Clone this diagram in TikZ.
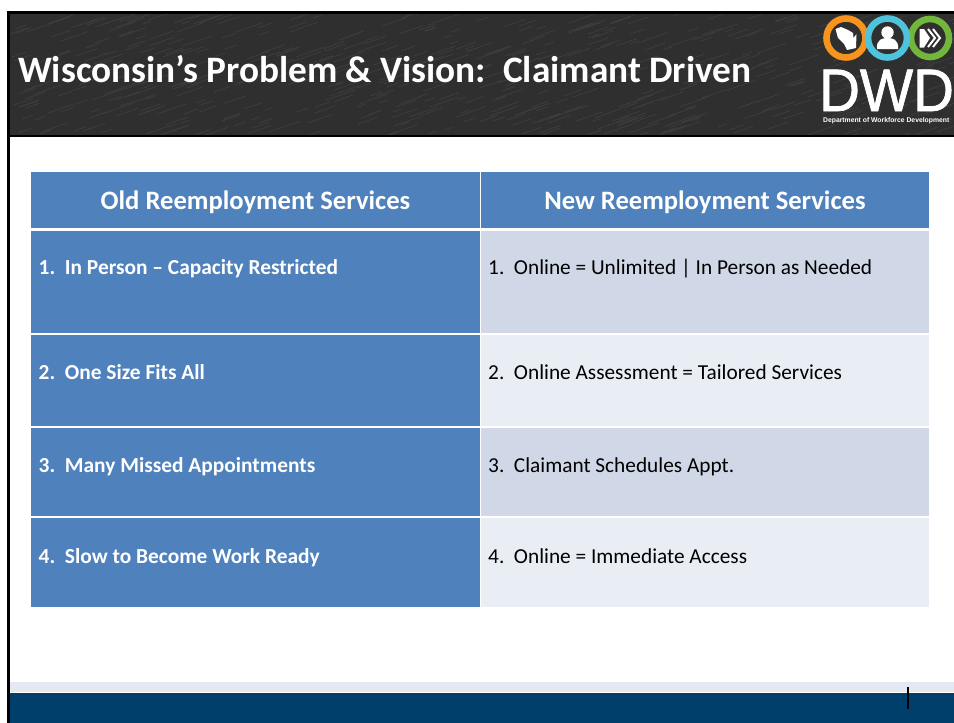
\documentclass[tikz,border=0pt]{standalone}
\usepackage{fontspec}
\setmainfont{Carlito}
\newfontfamily\logofont{Liberation Sans}
\newfontfamily\dwdfont[FakeStretch=0.94,FakeBold=1.2]{Liberation Sans}
\definecolor{headdark}{HTML}{2F2F2F}
\definecolor{texdark}{HTML}{3F3F3F}
\definecolor{cellblue}{HTML}{4F81BD}
\definecolor{rowa}{HTML}{D0D8E8}
\definecolor{rowb}{HTML}{E9EDF4}
\definecolor{navy}{HTML}{003F6B}
\definecolor{strip}{HTML}{E4E8F0}
\definecolor{ringorange}{HTML}{F7941E}
\definecolor{ringblue}{HTML}{4FC3DC}
\definecolor{ringgreen}{HTML}{72B73C}
\tikzset{
  x=1pt,y=-1pt,
  cell/.style={anchor=north west,inner sep=0pt,minimum width=#1,outer sep=0pt},
  headcell/.style={rectangle,fill=cellblue},
  leftcell/.style={rectangle,fill=cellblue},
  rightA/.style={rectangle,fill=rowa},
  rightB/.style={rectangle,fill=rowb},
  htext/.style={anchor=base,inner sep=0pt,text=white,font=\fontsize{26.6}{26.6}\selectfont\bfseries},
  ltext/.style={anchor=base west,inner sep=0pt,text=white,font=\fontsize{21.4}{21.4}\selectfont\bfseries},
  rtext/.style={anchor=base west,inner sep=0pt,text=black,font=\fontsize{21.3}{21.3}\selectfont},
  ring/.style={draw=#1,line width=6.6pt,fill=headdark},
  logowhite/.style={fill=white,draw=none}
}
\begin{document}
\begin{tikzpicture}
\useasboundingbox (0,0) rectangle (954,723);
\fill[white] (0,0) rectangle (954,723);
% header band
\fill[headdark] (8,12) rectangle (954,137);
\pgfmathsetseed{7}
\begin{scope}
\clip (10,14) rectangle (954,135);
\foreach \i in {1,...,520}{
  \pgfmathsetmacro{\px}{random(10,954)}
  \pgfmathsetmacro{\py}{random(14,136)}
  \pgfmathsetmacro{\pl}{random(8,30)}
  \draw[texdark,line width=0.7pt] (\px,\py) -- ++(\pl,-0.35*\pl);
}
\end{scope}
% frame
\fill[black] (7,11) rectangle (954,13.5);
\fill[black] (7,11) rectangle (9.5,723);
\fill[black] (8,135) rectangle (954,137);
% footer
\fill[strip] (9.5,682) rectangle (954,692);
\fill[navy] (9.5,692.5) rectangle (954,723);
\fill[black] (907,687) rectangle (909,709);
% title
\node[anchor=base west,inner sep=0pt,text=white,font=\fontsize{37.3}{37.3}\selectfont\bfseries] (title) at (18,82.5) {Wisconsin’s Problem \& Vision:\ \ Claimant Driven};
% table
\node[cell=449pt,minimum height=56pt,headcell] (h1) at (31,172) {};
\node[cell=448pt,minimum height=56pt,headcell] (h2) at (481,172) {};
\node[cell=449pt,minimum height=102pt,leftcell] (l1) at (31,231) {};
\node[cell=448pt,minimum height=102pt,rightA] (r1) at (481,231) {};
\node[cell=449pt,minimum height=91pt,leftcell] (l2) at (31,335) {};
\node[cell=448pt,minimum height=91pt,rightB] (r2) at (481,335) {};
\node[cell=449pt,minimum height=88pt,leftcell] (l3) at (31,428) {};
\node[cell=448pt,minimum height=88pt,rightA] (r3) at (481,428) {};
\node[cell=449pt,minimum height=89pt,leftcell] (l4) at (31,518) {};
\node[cell=448pt,minimum height=89pt,rightB] (r4) at (481,518) {};
\node[htext] (ht1) at (255.5,209.5) {Old Reemployment Services};
\node[htext] (ht2) at (705,209.5) {New Reemployment Services};
\node[ltext] (lt1) at (38.5,274) {1.\ \ In Person – Capacity Restricted};
\node[ltext] (lt2) at (38.5,379) {2.\ \ One Size Fits All};
\node[ltext] (lt3) at (38.5,472) {3.\ \ Many Missed Appointments};
\node[ltext] (lt4) at (38.5,563) {4.\ \ Slow to Become Work Ready};
\node[rtext] (rt1) at (488,274) {1.\ \ Online = Unlimited | In Person as Needed};
\node[rtext] (rt2) at (488,379) {2.\ \ Online Assessment = Tailored Services};
\node[rtext] (rt3) at (488,472) {3.\ \ Claimant Schedules Appt.};
\node[rtext] (rt4) at (488,563) {4.\ \ Online = Immediate Access};
% logo rings
\draw[ring=ringorange] (846,38) circle (19.5);
\draw[ring=ringgreen] (930,38) circle (19);
\draw[ring=ringblue] (887.5,38) circle (19.5);
% Wisconsin
\fill[logowhite] (835.5,29) -- (841,27) -- (848,30) -- (853,33) -- (853.5,38) -- (856.5,34) -- (856,48) -- (847,50) -- (844,44) -- (838,38) -- cycle;
% person
\fill[logowhite] (887.5,32.5) circle (6.2);
\fill[logowhite] (877,49) .. controls (876,39) and (883,38) .. (887.5,38) .. controls (892,38) and (899,39) .. (898,49) -- cycle;
% arrows
\fill[logowhite] (919.5,29) -- (924,29) -- (930,38) -- (924,47.5) -- (919.5,47.5) -- cycle;
\draw[white,line width=2pt] (928,29) -- (935,38) -- (928,47);
\draw[white,line width=2pt] (933,29) -- (940,38) -- (933,47);
% logo text
\node[anchor=base west,inner sep=0pt,text depth=0pt,text=white,font=\dwdfont\fontsize{60}{60}\selectfont] (dwd) at (819,111) {DWD};
\node[anchor=base west,inner sep=0pt,text=white,font=\logofont\bfseries\fontsize{6.8}{6.8}\selectfont] (dept) at (823,122) {Department of Workforce Development};
\end{tikzpicture}
\end{document}
